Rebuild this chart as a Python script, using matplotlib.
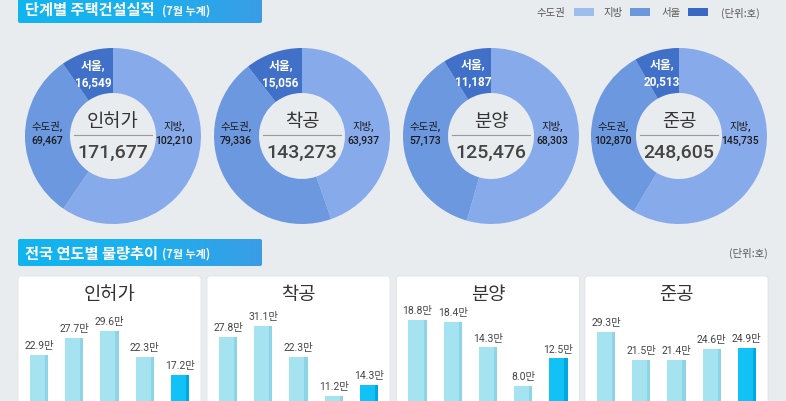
import numpy as np
import matplotlib
matplotlib.use('Agg')
import matplotlib.pyplot as plt
from matplotlib.patches import FancyBboxPatch, Rectangle
from matplotlib.colors import LinearSegmentedColormap

plt.rcParams['font.family'] = ['Noto Sans CJK KR', 'DejaVu Sans']
NUMF = ['Roboto', 'Noto Sans CJK KR', 'DejaVu Sans']

# ---------------- data ----------------
stages = ['인허가', '착공', '분양', '준공']
jibang = [102210, 63937, 68303, 145735]      # 지방
sudogwon = [69467, 79336, 57173, 102870]     # 수도권 (서울 포함)
seoul = [16549, 15056, 11187, 20513]         # 서울
totals = [171677, 143273, 125476, 248605]

permit = [22.9, 27.7, 29.6, 22.3, 17.2]      # 인허가 (만호)
start = [27.8, 31.1, 22.3, 11.2, 14.3]       # 착공
sale = [18.8, 18.4, 14.3, 8.0, 12.5]         # 분양
complete = [29.3, 21.5, 21.4, 24.6, 24.9]    # 준공
trend = [permit, start, sale, complete]

# ---------------- layout ----------------
W, H = 786, 402
BG = '#e9ecef'
fig = plt.figure(figsize=(W / 100, H / 100), dpi=100, facecolor=BG)


def px_axes(x, y, w, h):
    return fig.add_axes([x / W, 1 - (y + h) / H, w / W, h / H])


bg = px_axes(0, 0, W, H)
bg.set_facecolor(BG)
bg.axis('off')

grad = np.linspace(0, 1, 256).reshape(1, -1)
gcmap = LinearSegmentedColormap.from_list('g', ['#10b5f0', '#1ab0ee', '#3a9de6'])


def title_bar(y0, h, main, sub):
    im = bg.imshow(grad, extent=[18, 262, y0 + h, y0], aspect='auto', cmap=gcmap, zorder=1)
    clip = FancyBboxPatch((18, y0), 244, h, boxstyle='round,pad=0,rounding_size=2',
                          facecolor='none', edgecolor='none')
    bg.add_patch(clip)
    im.set_clip_path(clip)
    bg.text(25, y0 + h / 2, main, color='white', fontsize=11, fontweight='bold',
            va='center', ha='left', zorder=2)
    bg.text(162, y0 + h / 2 + 1, sub, color='white', fontsize=8, fontweight='bold',
            va='center', ha='left', zorder=2)


title_bar(-4, 28, '단계별 주택건설실적', '(7월 누계)')
title_bar(240, 27, '전국 연도별 물량추이', '(7월 누계)')

# legend
leg_txt_col = '#555555'
legend_items = [('수도권', '#9dbdec', 565, 574), ('지방', '#6d97dd', 623, 630), ('서울', '#3a67c3', 681, 688)]
for name, col, tx, bx in legend_items:
    bg.text(tx, 13, name, ha='right', va='center', fontsize=7.5, color=leg_txt_col)
    bg.add_patch(Rectangle((bx, 9), 20, 8, facecolor=col, edgecolor='none'))
bg.text(740, 13, '(단위:호)', ha='center', va='center', fontsize=7.5, color=leg_txt_col)
bg.text(748, 253, '(단위:호)', ha='center', va='center', fontsize=7.5, color=leg_txt_col)

# cards
card_x = [18, 207, 396.5, 585]
card_w = 183
for i, x0 in enumerate(card_x):
    bg.add_patch(FancyBboxPatch((x0, 277), card_w, 160, boxstyle='round,pad=0,rounding_size=3',
                                facecolor='white', edgecolor='#dfe3e7', lw=0.6, zorder=1))
    bg.text(x0 + card_w / 2, 295, stages[i], ha='center', va='center', fontsize=13.5,
            color='#333333', zorder=2)

bg.set_xlim(0, W)
bg.set_ylim(H, 0)

# ---------------- donuts ----------------
centers = [113, 302, 491, 679]
cy = 137
R_OUT, RING = 88, 45
donut_cols = ['#87aaea', '#6c98e0', '#4070c8']
for i, cx in enumerate(centers):
    ax = px_axes(cx - 100, cy - 100, 200, 200)
    ax.patch.set_alpha(0)
    vals = [jibang[i], sudogwon[i] - seoul[i], seoul[i]]
    ax.pie(vals, radius=R_OUT, startangle=90, counterclock=False, colors=donut_cols,
           wedgeprops=dict(width=RING, edgecolor='none'))
    ax.set_xlim(-100, 100)
    ax.set_ylim(-100, 100)
    ax.set_aspect('equal')
    ax.axis('off')
    # centre
    ax.text(0, 15, stages[i], ha='center', va='center', fontsize=13.5, color='#333333')
    ax.plot([-39, 39], [1, 1], color='#9a9a9a', lw=0.8)
    ax.text(0, -16, f'{totals[i]:,}', ha='center', va='center', fontsize=14,
            color='#444444', fontweight='medium', family=NUMF)
    # labels
    ax.text(61, 4, f'지방,\n{jibang[i]:,}', ha='center', va='center', fontsize=7.5,
            color='#1a1a1a', linespacing=1.5, family=NUMF, fontweight='medium')
    ax.text(-66, 4, f'수도권,\n{sudogwon[i]:,}', ha='center', va='center', fontsize=7.5,
            color='#1a1a1a', linespacing=1.5, family=NUMF, fontweight='medium')
    tot = sum(vals)
    theta = np.deg2rad(360 - 0.5 * seoul[i] / tot * 360)
    r = 66
    ax.text(r * np.sin(theta), r * np.cos(theta), f'서울,\n{seoul[i]:,}', ha='center',
            va='center', fontsize=8.5, color='white', fontweight='bold', linespacing=1.4,
            family=NUMF)

# ---------------- bar panels ----------------
ymax = [38.8, 38.7, 22.2, 38.8]
bar_cols = ['#a6e3f0'] * 4 + ['#12c1f6']
side_cols = ['#8ed4e7'] * 4 + ['#00a8e2']
xs = np.arange(5)
BW, SW = 0.52, 0.09
for i, x0 in enumerate(card_x):
    ax = px_axes(x0, 300, card_w, 136)
    ax.patch.set_alpha(0)
    vals = trend[i]
    ax.bar(xs, vals, width=BW, color=bar_cols, edgecolor='none')
    ax.bar(xs + BW / 2 - SW / 2, vals, width=SW, color=side_cols, edgecolor='none')
    for xi, v in zip(xs, vals):
        ax.annotate(f'{v:.1f}만', (xi, v), xytext=(0, 3.5), textcoords='offset points',
                    ha='center', va='bottom', fontsize=7.5, color='#444444', family=NUMF)
    ax.set_xlim(-0.6, 4.6)
    ax.set_ylim(0, ymax[i])
    ax.axis('off')

fig.savefig('out.png', dpi=100, facecolor=BG)
